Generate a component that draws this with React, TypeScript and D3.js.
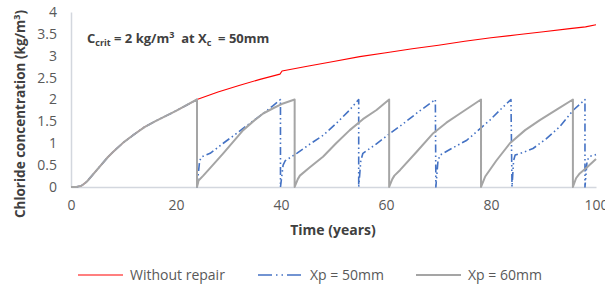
import React, { useEffect, useRef } from 'react';
import * as d3 from 'd3';

// Without repair
const redYears = [0, 1, 2, 3, 4, 5, 6, 7, 8, 10, 12, 14, 16, 18, 20, 22, 24, 28, 32, 36, 39.8, 40.2, 45, 50, 55, 60, 65, 70, 75, 80, 85, 90, 95, 98, 100];
const redValues = [0, 0, 0.03, 0.12, 0.26, 0.4, 0.54, 0.68, 0.8, 1.02, 1.2, 1.37, 1.5, 1.62, 1.74, 1.87, 2.0, 2.17, 2.32, 2.46, 2.58, 2.65, 2.76, 2.87, 2.98, 3.07, 3.16, 3.24, 3.33, 3.41, 3.48, 3.55, 3.62, 3.66, 3.71];

// Xp = 50mm
const xp50Years = [0, 1, 2, 3, 4, 5, 6, 7, 8, 10, 12, 14, 16, 18, 20, 22, 24,
    24, 24.5, 24.9, 26.5, 29, 31.6, 34, 36.6, 38.5, 39.9,
    39.9, 40.4, 40.8, 43, 45.5, 48, 50.5, 53, 54.8,
    54.8, 55.2, 55.6, 58, 60.5, 63, 66.2, 69.4,
    69.5, 69.9, 70.3, 72.8, 75.4, 77.6, 79.8, 81.8, 83.8,
    84, 84.3, 84.6, 86.3, 88, 90.5, 93.1, 95.7, 97.9,
    97.9, 98.3, 98.8, 100];
const xp50Values = [0, 0, 0.03, 0.12, 0.26, 0.4, 0.54, 0.68, 0.8, 1.02, 1.2, 1.37, 1.5, 1.62, 1.74, 1.87, 2.0,
    0, 0.6, 0.69, 0.77, 1.0, 1.23, 1.45, 1.68, 1.86, 2.0,
    0, 0.5, 0.6, 0.77, 0.98, 1.18, 1.45, 1.75, 2.0,
    0, 0.6, 0.77, 0.97, 1.2, 1.42, 1.72, 2.0,
    0, 0.6, 0.73, 0.9, 1.07, 1.3, 1.53, 1.77, 2.0,
    0, 0.6, 0.73, 0.8, 0.88, 1.1, 1.38, 1.76, 2.0,
    0, 0.6, 0.7, 0.74];

// Xp = 60mm
const xp60Years = [0, 1, 2, 3, 4, 5, 6, 7, 8, 10, 12, 14, 16, 18, 20, 22, 24,
    24, 24.3, 25.2, 27, 29, 31, 32.8, 34.7, 36.6, 38.5, 40.4, 42.6,
    42.6, 43.2, 43.6, 45.5, 48, 50.5, 53.1, 55.6, 58.2, 60.6,
    60.6, 61.2, 61.6, 62.7, 65.8, 69, 71.5, 74.1, 76.1, 78.1,
    78.1, 78.6, 78.9, 81, 83.6, 86.5, 89.3, 92.5, 95.6,
    95.6, 96.2, 96.9, 98.3, 100];
const xp60Values = [0, 0, 0.03, 0.12, 0.26, 0.4, 0.54, 0.68, 0.8, 1.02, 1.2, 1.37, 1.5, 1.62, 1.74, 1.87, 2.0,
    0, 0.15, 0.26, 0.5, 0.77, 1.05, 1.3, 1.5, 1.68, 1.8, 1.91, 2.0,
    0, 0.18, 0.26, 0.45, 0.69, 1.0, 1.3, 1.55, 1.76, 2.0,
    0, 0.18, 0.26, 0.39, 0.8, 1.23, 1.47, 1.68, 1.84, 2.0,
    0, 0.15, 0.24, 0.6, 1.0, 1.3, 1.53, 1.77, 2.0,
    0, 0.2, 0.31, 0.45, 0.64];

const xTicks = [0, 20, 40, 60, 80, 100];
const yTicks = [0, 0.5, 1, 1.5, 2, 2.5, 3, 3.5, 4];

const font = "'Open Sans', sans-serif";

const App = () => {
    const svgRef = useRef(null);

    useEffect(() => {
        const svg = d3.select(svgRef.current);
        svg.selectAll("*").remove();

        const x = d3.scaleLinear().domain([0, 100]).range([71, 596]);
        const y = d3.scaleLinear().domain([0, 4]).range([187, 12]);

        //axes
        const xAxis = svg.append("g")
            .attr("transform", "translate(0,187)")
            .call(d3.axisBottom(x).tickValues(xTicks).tickSize(0).tickPadding(13));
        xAxis.select(".domain").attr("stroke", "#d3d7de").attr("stroke-width", 1.5);
        xAxis.selectAll("text")
            .attr("font-family", font).attr("font-size", "14px").attr("fill", "#595959");

        const yAxis = svg.append("g")
            .attr("transform", "translate(71,0)")
            .call(d3.axisLeft(y).tickValues(yTicks).tickSize(0).tickPadding(14).tickFormat(d => String(d)));
        yAxis.select(".domain").attr("stroke", "#d3d7de").attr("stroke-width", 1.5);
        yAxis.selectAll("text")
            .attr("font-family", font).attr("font-size", "14px").attr("fill", "#595959");

        const drawSeries = (years, values, color, width, dash) => {
            const pts = years.map((t, i) => [x(t), y(values[i])]);
            svg.append("path")
                .attr("d", d3.line()(pts))
                .attr("fill", "none")
                .attr("stroke", color)
                .attr("stroke-width", width)
                .attr("stroke-linejoin", "round")
                .attr("stroke-dasharray", dash);
        };

        drawSeries(redYears, redValues, "#ff0000", 1.1, null);
        drawSeries(xp50Years, xp50Values, "#4472c4", 1.6, "8,3,1.5,3,1.5,3");
        drawSeries(xp60Years, xp60Values, "#a5a5a5", 2, null);

        //annotation
        const ann = svg.append("text")
            .attr("x", 87).attr("y", 43)
            .style("white-space", "pre")
            .attr("font-family", font).attr("font-size", "13px")
            .attr("font-weight", "bold").attr("fill", "#404040");
        ann.append("tspan").text("C");
        ann.append("tspan").attr("font-size", "9px").attr("dy", 3).text("crit");
        ann.append("tspan").attr("dy", -3).text(" = 2 kg/m");
        ann.append("tspan").attr("font-size", "9px").attr("dy", -5).text("3");
        ann.append("tspan").attr("dy", 5).text("  at X");
        ann.append("tspan").attr("font-size", "9px").attr("dy", 3).text("c");
        ann.append("tspan").attr("dy", -3).text("  = 50mm");

        //axis titles
        svg.append("text")
            .attr("x", 333).attr("y", 235)
            .attr("text-anchor", "middle")
            .attr("font-family", font).attr("font-size", "14px")
            .attr("font-weight", "bold").attr("fill", "#404040")
            .text("Time (years)");

        const yt = svg.append("text")
            .attr("transform", "translate(25,114) rotate(-90)")
            .attr("text-anchor", "middle")
            .attr("font-family", font).attr("font-size", "13.5px")
            .attr("font-weight", "bold").attr("fill", "#404040");
        yt.append("tspan").text("Chloride concentration (kg/m");
        yt.append("tspan").attr("font-size", "9px").attr("dy", -5).text("3");
        yt.append("tspan").attr("dy", 5).text(")");

        //legend
        const legend = [
            { label: "Without repair", color: "#ff0000", width: 1.1, dash: null, x: 78 },
            { label: "Xp = 50mm", color: "#4472c4", width: 1.6, dash: "14,4,1.5,4,1.5,4", x: 258 },
            { label: "Xp = 60mm", color: "#a5a5a5", width: 2, dash: null, x: 416 }
        ];
        legend.forEach(l => {
            svg.append("line")
                .attr("x1", l.x).attr("x2", l.x + 45)
                .attr("y1", 275).attr("y2", 275)
                .attr("stroke", l.color).attr("stroke-width", l.width)
                .attr("stroke-dasharray", l.dash);
            svg.append("text")
                .attr("x", l.x + 52).attr("y", 280)
                .attr("font-family", font).attr("font-size", "14px")
                .attr("fill", "#595959")
                .text(l.label);
        });
    }, []);

    return (
        <svg ref={svgRef} width={605} height={287}
            style={{ position: 'absolute', left: 0, top: 0, background: '#fff' }}></svg>
    );
};

export default App;
